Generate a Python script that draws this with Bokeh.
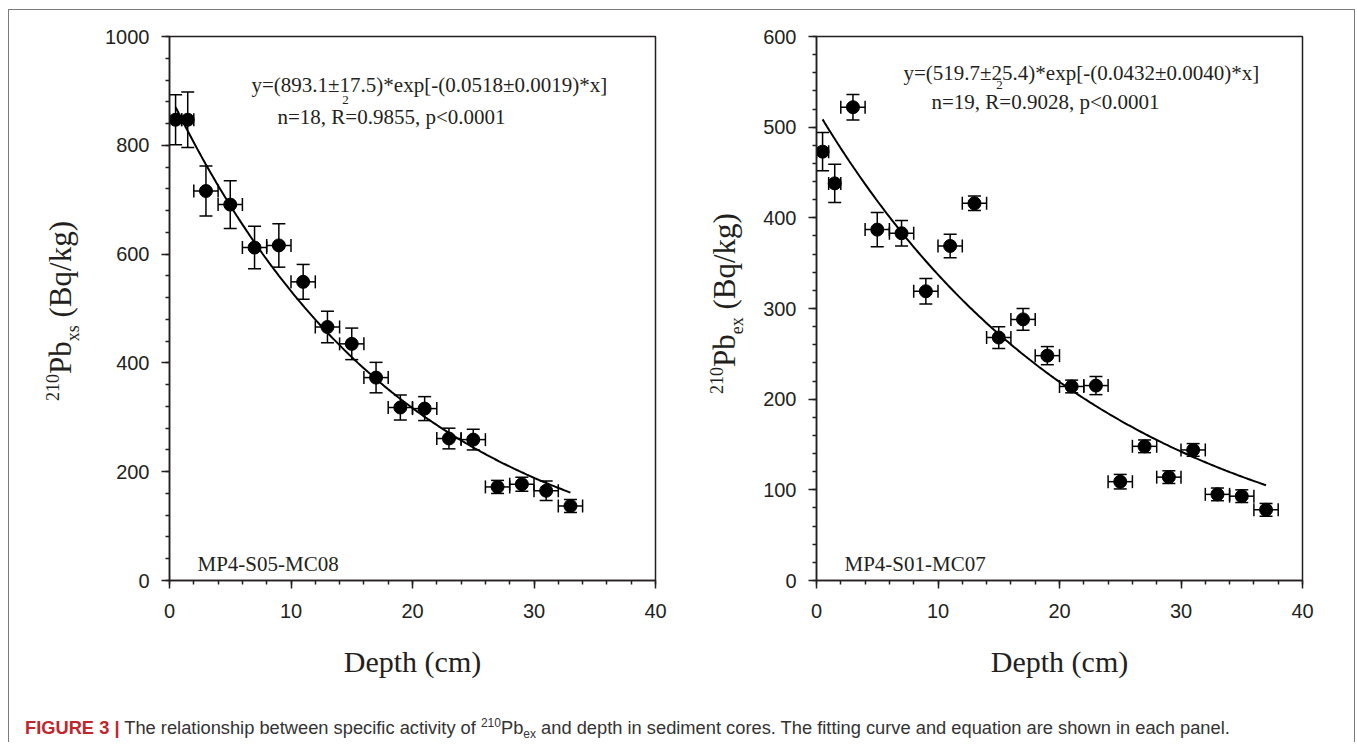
import numpy as np
from bokeh.plotting import figure
from bokeh.models import (Range1d, SingleIntervalTicker, Whisker, TeeHead, Label,
                          ColumnDataSource, Div, Spacer)
from bokeh.layouts import column, row
from bokeh.embed import file_html
from bokeh.resources import INLINE

# ---------------- data ----------------
# Panel A: MP4-S05-MC08
depth_a = [0.5, 1.5, 3, 5, 7, 9, 11, 13, 15, 17, 19, 21, 23, 25, 27, 29, 31, 33]
pb_a = [847, 847, 716, 691, 612, 616, 549, 466, 435, 373, 318, 316, 261, 259, 172, 177, 165, 137]
pb_err_a = [46, 51, 46, 44, 39, 40, 32, 29, 29, 28, 23, 22, 19, 19, 12, 13, 18, 12]
depth_err_a = [0.5, 0.5, 1, 1, 1, 1, 1, 1, 1, 1, 1, 1, 1, 1, 1, 1, 1, 1]
fit_a = (893.1, 0.0518)
eq1_a = "y=(893.1\u00b117.5)*exp[-(0.0518\u00b10.0019)*x]"
eq2_a = ("n=18, R", "2", "=0.9855, p<0.0001")
name_a = "MP4-S05-MC08"
ylab_sub_a = "xs"

# Panel B: MP4-S01-MC07
depth_b = [0.5, 1.5, 3, 5, 7, 9, 11, 13, 15, 17, 19, 21, 23, 25, 27, 29, 31, 33, 35, 37]
pb_b = [473, 438, 522, 387, 383, 319, 369, 416, 268, 288, 248, 214, 215, 109, 148, 114, 144, 95, 93, 78]
pb_err_b = [21, 21, 14, 19, 14, 14, 13, 8, 12, 12, 10, 7, 10, 8, 7, 7, 7, 7, 7, 7]
depth_err_b = [0.5, 0.5, 1, 1, 1, 1, 1, 1, 1, 1, 1, 1, 1, 1, 1, 1, 1, 1, 1, 1]
fit_b = (519.7, 0.0432)
eq1_b = "y=(519.7\u00b125.4)*exp[-(0.0432\u00b10.0040)*x]"
eq2_b = ("n=19, R", "2", "=0.9028, p<0.0001")
name_b = "MP4-S01-MC07"
ylab_sub_b = "ex"

x_ticks_interval = 10
y_interval_a, y_max_a = 200, 1000
y_interval_b, y_max_b = 100, 600

# ---------------- layout constants ----------------
FRAME_W, FRAME_H = 486, 544
TOP = 26
FIG_H = 682
INK = "#231f20"
SERIF = "Liberation Serif"
SANS = "Liberation Sans"
PX_PER_X = FRAME_W / 40.0
FRAME_TOP_PAGE = 36
FRAME_BOTTOM_PAGE = FRAME_TOP_PAGE + FRAME_H
LABEL_LIFT = 7


def make_panel(depth, pb, pb_err, depth_err, fit, eq1, eq2, name, ymax, yint,
               width, bl, br, frame_left, eq_pos):
    p = figure(width=width, height=FIG_H, x_range=Range1d(0, 40), y_range=Range1d(0, ymax),
               output_backend="svg", toolbar_location=None,
               min_border_left=bl, min_border_right=br, min_border_top=TOP,
               min_border_bottom=FIG_H - TOP - FRAME_H)
    p.grid.visible = False
    p.background_fill_color = "white"
    p.border_fill_color = "white"
    p.outline_line_color = INK
    p.outline_line_width = 1.5
    p.outline_line_alpha = 1.0

    p.xaxis.ticker = SingleIntervalTicker(interval=x_ticks_interval, num_minor_ticks=5)
    p.yaxis.ticker = SingleIntervalTicker(interval=yint, num_minor_ticks=5)
    for ax in (p.xaxis[0], p.yaxis[0]):
        ax.axis_line_color = INK
        ax.axis_line_width = 1.5
        ax.major_tick_line_color = INK
        ax.major_tick_line_width = 1.5
        ax.minor_tick_line_color = INK
        ax.minor_tick_line_width = 1.5
        ax.major_tick_in = 0
        ax.major_tick_out = 8
        ax.minor_tick_in = 0
        ax.minor_tick_out = 4
        ax.major_label_text_font = SANS
        ax.major_label_text_font_size = "20px"
        ax.major_label_text_color = INK
    p.xaxis.major_label_standoff = 15
    p.yaxis.major_label_standoff = 12
    p.xaxis.axis_label = "Depth (cm)"
    p.xaxis.axis_label_text_font = SERIF
    p.xaxis.axis_label_text_font_size = "30px"
    p.xaxis.axis_label_text_font_style = "normal"
    p.xaxis.axis_label_text_color = INK
    p.xaxis.axis_label_standoff = 24

    def dx(px):
        return (px - frame_left) / PX_PER_X

    def dy(py):
        return (FRAME_BOTTOM_PAGE - (py - LABEL_LIFT)) * ymax / FRAME_H

    src = ColumnDataSource(dict(
        x=depth, y=pb,
        ylo=[v - e for v, e in zip(pb, pb_err)], yhi=[v + e for v, e in zip(pb, pb_err)],
        xlo=[d - e for d, e in zip(depth, depth_err)], xhi=[d + e for d, e in zip(depth, depth_err)],
    ))
    head = dict(size=13, line_width=1.5, line_color="black")
    wv = Whisker(base="x", lower="ylo", upper="yhi", dimension="height", source=src,
                 line_color="black", line_width=1.5,
                 upper_head=TeeHead(**head), lower_head=TeeHead(**head))
    wh = Whisker(base="y", lower="xlo", upper="xhi", dimension="width", source=src,
                 line_color="black", line_width=1.5,
                 upper_head=TeeHead(**head), lower_head=TeeHead(**head))
    wv.level = "underlay"
    wh.level = "underlay"
    p.add_layout(wv)
    p.add_layout(wh)

    xs = np.linspace(depth[0], depth[-1], 200)
    p.line(xs, fit[0] * np.exp(-fit[1] * xs), line_color="black", line_width=2)
    p.scatter("x", "y", source=src, size=13, color="black")

    # equation text
    (e1x, e1y), (e2x, e2y), (nx, ny) = eq_pos
    size = 21
    p.add_layout(Label(x=dx(e1x), y=dy(e1y), text=eq1, text_font=SERIF,
                       text_font_size=f"{size}px", text_color=INK, text_baseline="alphabetic"))
    w_first = 3.231 * size
    p.add_layout(Label(x=dx(e2x), y=dy(e2y), text=eq2[0], text_font=SERIF,
                       text_font_size=f"{size}px", text_color=INK, text_baseline="alphabetic"))
    p.add_layout(Label(x=dx(e2x + w_first - 3), y=dy(e2y - 17), text=eq2[1], text_font=SERIF,
                       text_font_size="13px", text_color=INK, text_baseline="alphabetic"))
    p.add_layout(Label(x=dx(e2x + w_first), y=dy(e2y), text=eq2[2], text_font=SERIF,
                       text_font_size=f"{size}px", text_color=INK, text_baseline="alphabetic"))
    p.add_layout(Label(x=dx(nx), y=dy(ny), text=name, text_font=SERIF,
                       text_font_size="21px", text_color=INK, text_baseline="alphabetic"))
    return p


def ylabel_div(sub, width, left, top):
    html = (f'<div style="position:absolute;left:{left}px;top:{top}px;transform-origin:0 0;'
            f'transform:rotate(-90deg);white-space:nowrap;font-family:\'Liberation Serif\',serif;'
            f'font-size:31px;line-height:30px;color:{INK};">'
            f'<span style="font-size:18px;position:relative;top:-12px;">210</span>Pb'
            f'<span style="font-size:18px;position:relative;top:8px;">{sub}</span> (Bq/kg)</div>')
    return Div(text=html, width=width, height=FIG_H, margin=0)


p1 = make_panel(depth_a, pb_a, pb_err_a, depth_err_a, fit_a, eq1_a, eq2_a, name_a,
                y_max_a, y_interval_a, 605, 74, 45, 169,
                ((251, 91), (277, 123), (197, 570)))
p2 = make_panel(depth_b, pb_b, pb_err_b, depth_err_b, fit_b, eq1_b, eq2_b, name_b,
                y_max_b, y_interval_b, 596, 58, 52, 816,
                ((903, 79), (931, 108), (844, 570)))

yl1 = ylabel_div(ylab_sub_a, 86, 37, 391)
yl2 = ylabel_div(ylab_sub_b, 58, 10, 384)

caption = Div(
    text=('<div style="position:absolute;left:16px;top:27px;white-space:nowrap;'
          'font-family:\'Liberation Sans\',Arial,sans-serif;font-size:18.3px;line-height:18px;color:#333;">'
          '<span style="color:#c0272d;font-weight:bold;">FIGURE 3 |</span> '
          'The relationship between specific activity of '
          '<span style="font-size:12px;position:relative;top:-7px;">210</span>Pb'
          '<span style="font-size:12px;position:relative;top:4px;">ex</span> and depth in sediment cores. '
          'The fitting curve and equation are shown in each panel.</div>'),
    width=1345, height=50, margin=0)

framed = column(row(yl1, p1, yl2, p2), caption,
                styles={"border": "1px solid #7a7a7a", "border-bottom": "none"})
layout = row(Spacer(width=8), column(Spacer(height=9), framed))

with open("out.html", "w") as f:
    f.write(file_html(layout, INLINE))
